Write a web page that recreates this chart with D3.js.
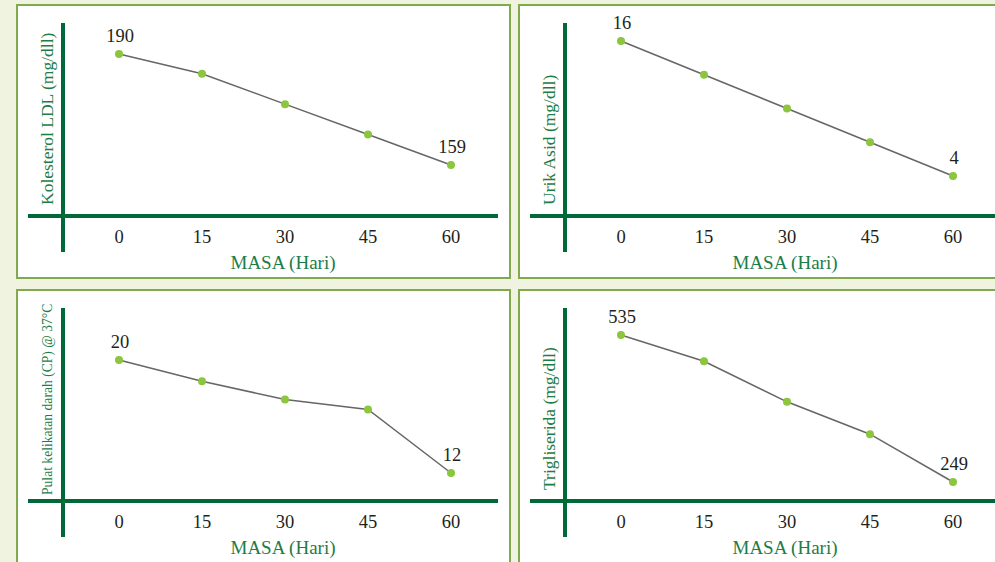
<!DOCTYPE html>
<html><head><meta charset="utf-8">
<script src="https://cdn.jsdelivr.net/npm/d3@7"></script>
<style>html,body{margin:0;padding:0;background:#f1f3e1;overflow:hidden}</style>
</head><body>
<script>
const days = [0, 15, 30, 45, 60];
const tickLabels = ["0", "15", "30", "45", "60"];
const xTitle = "MASA (Hari)";
const ldlValues = [190, 184.5, 176, 167.5, 159];
const uricValues = [16, 13, 10, 7, 4];
const clotValues = [20, 18.5, 17.2, 16.5, 12];
const trigValues = [535, 484, 405, 342, 249];
const yTitles = ["Kolesterol LDL (mg/dll)", "Urik Asid (mg/dll)", "Pulat kelikatan darah (CP) @ 37°C", "Trigliserida (mg/dll)"];
const seriesList = [ldlValues, uricValues, clotValues, trigValues];

const W = 995, H = 562;
const svg = d3.select("body").append("svg").attr("width", W).attr("height", H);
svg.append("rect").attr("width", W).attr("height", H).attr("fill", "#f1f3e1");

// layout per panel
const panels = [
  {ox: 0, oy: 0, yr: [165, 54], titleSize: 17.5},
  {ox: 502, oy: 0, yr: [176, 41], titleSize: 17.5},
  {ox: 0, oy: 285, yr: [188, 75], titleSize: 13.6},
  {ox: 502, oy: 285, yr: [197, 50], titleSize: 17.5}
];
const axisColor = "#00693a", titleColor = "#1c7d47", borderColor = "#80aa4c";
const font = "Liberation Serif";

panels.forEach((p, i) => {
  const vals = seriesList[i];
  const g = svg.append("g").attr("transform", `translate(${p.ox},${p.oy})`);
  g.append("rect").attr("x", 17).attr("y", 5).attr("width", 493).attr("height", 273)
    .attr("fill", "#ffffff").attr("stroke", borderColor).attr("stroke-width", 2);
  const x = d3.scaleLinear().domain([0, 60]).range([119, 451]);
  const first = vals[0], last = vals[vals.length - 1];
  const y = d3.scaleLinear().domain([last, first]).range(p.yr);
  g.append("line").attr("x1", 28).attr("x2", 498).attr("y1", 216).attr("y2", 216)
    .attr("stroke", axisColor).attr("stroke-width", 4);
  g.append("line").attr("x1", 63).attr("x2", 63).attr("y1", 23).attr("y2", 252)
    .attr("stroke", axisColor).attr("stroke-width", 4);
  g.selectAll("text.tick").data(days).enter().append("text")
    .style("font-family", font)
    .attr("x", d => x(d)).attr("y", 243).attr("text-anchor", "middle")
    .attr("font-size", 18.5).attr("fill", "#231f20")
    .text((d, k) => tickLabels[k]);
  g.append("text").attr("x", 283).attr("y", 269).attr("text-anchor", "middle")
    .style("font-family", font).attr("font-size", 19).attr("fill", titleColor).text(xTitle);
  g.append("text").attr("transform", `translate(${i === 2 ? 52 : 53},${i === 2 ? 210 : 205}) rotate(-90)`)
    .attr("text-anchor", "start").style("font-family", font).attr("font-size", p.titleSize)
    .attr("fill", titleColor).text(yTitles[i]);
  const line = d3.line().x((d, k) => x(days[k])).y(d => y(d));
  g.append("path").datum(vals).attr("d", line).attr("fill", "none")
    .attr("stroke", "#666666").attr("stroke-width", 1.5);
  g.selectAll("circle").data(vals).enter().append("circle")
    .attr("cx", (d, k) => x(days[k])).attr("cy", d => y(d)).attr("r", 4)
    .attr("fill", "#8cc63f");
  [0, vals.length - 1].forEach(k => {
    g.append("text").attr("x", x(days[k]) + 1).attr("y", y(vals[k]) - 12)
      .attr("text-anchor", "middle").style("font-family", font).attr("font-size", 18.5)
      .attr("fill", "#231f20").text(vals[k]);
  });
});
</script>
</body></html>
